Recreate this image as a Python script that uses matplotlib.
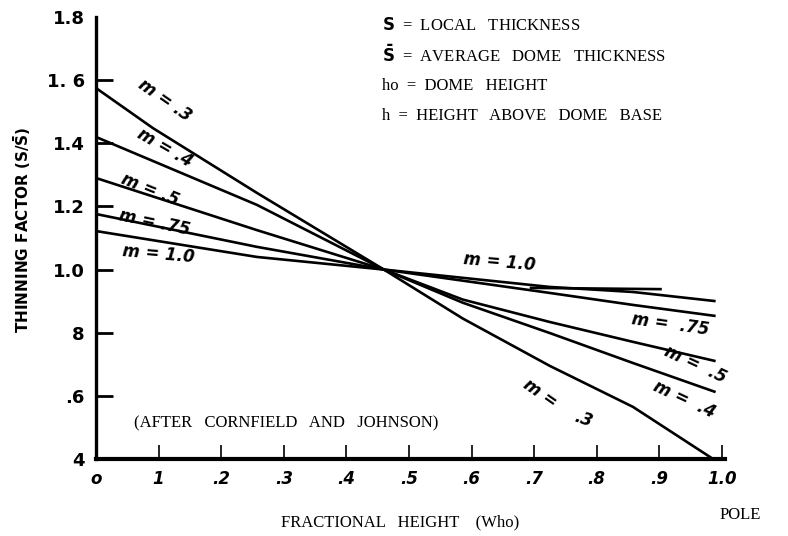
import matplotlib
matplotlib.use("Agg")
import matplotlib.pyplot as plt

# valeurs (facteur d'amincissement vs hauteur relative)
x_m03 = [0.0, 0.091, 0.257, 0.46, 0.586, 0.725, 0.858, 0.986]
y_m03 = [1.575, 1.448, 1.243, 1.0, 0.845, 0.695, 0.565, 0.40]
x_m04 = [0.0, 0.257, 0.46, 0.586, 0.725, 0.858, 0.99]
y_m04 = [1.42, 1.205, 1.0, 0.895, 0.799, 0.704, 0.612]
x_m05 = [0.0, 0.257, 0.46, 0.586, 0.725, 0.858, 0.99]
y_m05 = [1.29, 1.125, 1.0, 0.905, 0.834, 0.771, 0.71]
x_m075 = [0.0, 0.257, 0.46, 0.725, 0.858, 0.99]
y_m075 = [1.176, 1.072, 1.0, 0.926, 0.888, 0.853]
x_m10 = [0.0, 0.257, 0.46, 0.725, 0.858, 0.99]
y_m10 = [1.122, 1.04, 1.0, 0.945, 0.929, 0.90]
x_m10b = [0.693, 0.904]   # trait supplémentaire sur la courbe m = 1.0
y_m10b = [0.942, 0.938]

xticks = [0, 0.1, 0.2, 0.3, 0.4, 0.5, 0.6, 0.7, 0.8, 0.9, 1.0]
xticklabels = ["o", "1", ".2", ".3", ".4", ".5", ".6", ".7", ".8", ".9", "1.0"]
yticks = [0.4, 0.6, 0.8, 1.0, 1.2, 1.4, 1.6, 1.8]
yticklabels = ["4", ".6", "8", "1.0", "1.2", "1.4", "1. 6", "1.8"]

fig = plt.figure(figsize=(7.88, 5.36), dpi=100)
ax = fig.add_axes([96 / 788, 77 / 536, 629 / 788, 442 / 536])

for xs, ys in [(x_m03, y_m03), (x_m04, y_m04), (x_m05, y_m05),
               (x_m075, y_m075), (x_m10, y_m10), (x_m10b, y_m10b)]:
    ax.plot(xs, ys, color="black", linewidth=1.9, solid_capstyle="butt")

ax.set_xlim(0, 1.005)
ax.set_ylim(0.4, 1.8)
ax.spines["top"].set_visible(False)
ax.spines["right"].set_visible(False)
ax.spines["left"].set_linewidth(2.4)
ax.spines["bottom"].set_linewidth(3)

ax.set_xticks(xticks)
ax.set_xticklabels(xticklabels, fontsize=12, style="italic", fontweight="bold")
ax.set_yticks(yticks)
ax.set_yticklabels(yticklabels, fontsize=13, fontweight="bold")
ax.tick_params(axis="y", direction="in", length=12, width=2, pad=8)
ax.tick_params(axis="x", direction="in", length=10, width=1.2, pad=8)
ax.yaxis.get_major_ticks()[-1].tick1line.set_visible(False)
ax.xaxis.get_major_ticks()[0].tick1line.set_visible(False)

# étiquettes des courbes
lab = dict(fontsize=12, style="italic", fontweight="bold", ha="center", va="center")
ax.text(0.11, 1.537, "m = .3", rotation=-35, **lab)
ax.text(0.11, 1.385, "m = .4", rotation=-30, **lab)
ax.text(0.086, 1.252, "m = .5", rotation=-22, **lab)
ax.text(0.094, 1.15, "m = .75", rotation=-12, **lab)
ax.text(0.10, 1.05, "m = 1.0", rotation=-5, **lab)
ax.text(0.645, 1.024, "m = 1.0", rotation=-5, **lab)
ax.text(0.917, 0.825, "m =  .75", rotation=-8, **lab)
ax.text(0.957, 0.698, "m =  .5", rotation=-25, **lab)
ax.text(0.94, 0.587, "m =  .4", rotation=-25, **lab)
ax.text(0.709, 0.609, "m =", rotation=-35, **lab)
ax.text(0.778, 0.524, ".3", rotation=-20, **lab)

serif = dict(family="Liberation Serif", fontsize=12)
ax.text(0.06, 0.50, "(AFTER   CORNFIELD   AND   JOHNSON)", **serif)

fig.text(22 / 788, 1 - 230 / 536, r"THINNING FACTOR (S/$\mathbf{\bar{S}}$)", rotation=90,
         ha="center", va="center", fontsize=11, fontweight="bold")
fig.text(400 / 788, 1 - 522 / 536, "FRACTIONAL   HEIGHT    (Who)",
         ha="center", va="center", **serif)
fig.text(720 / 788, 1 - 515 / 536, "POLE", ha="left", va="center", **serif)

leg_y = [25, 55, 86, 116]
leg_txt = [r"$\mathbf{S}$  =  LOCAL   THICKNESS",
           r"$\mathbf{\bar{S}}$  =  AVERAGE   DOME   THICKNESS",
           "ho  =  DOME   HEIGHT", "h  =  HEIGHT   ABOVE   DOME   BASE"]
for py, t in zip(leg_y, leg_txt):
    fig.text(382 / 788, 1 - py / 536, t, ha="left", va="center", **serif)

fig.savefig("out.png", dpi=100)
